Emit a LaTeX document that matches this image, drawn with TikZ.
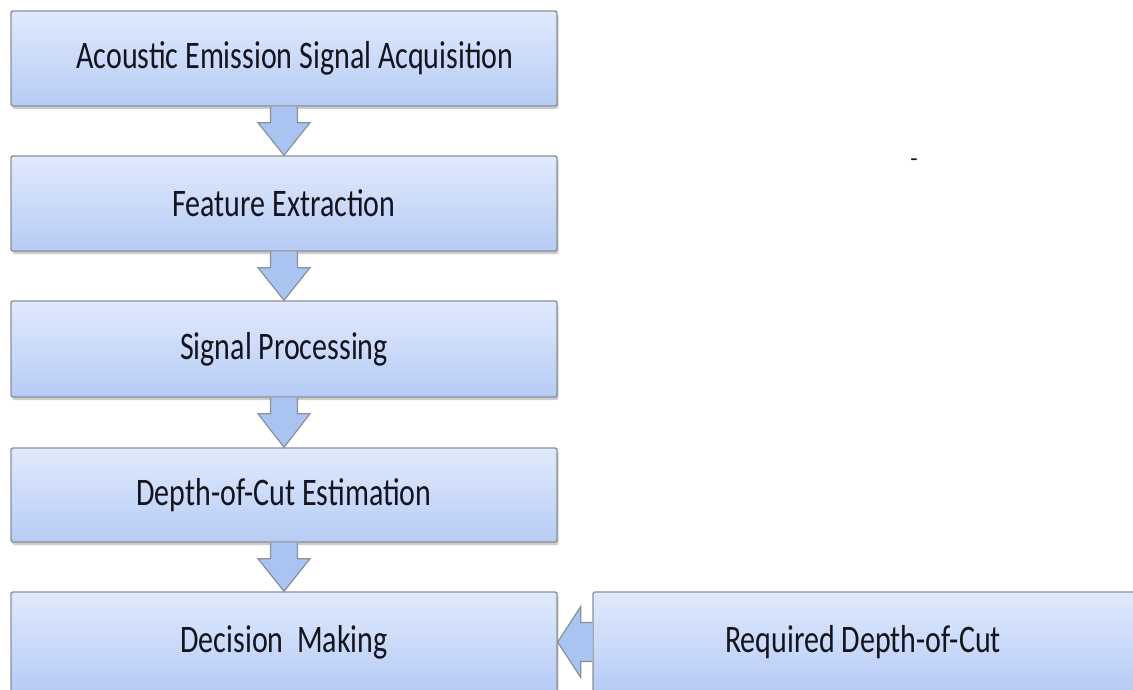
\documentclass[tikz,border=0pt]{standalone}
\usepackage{fontspec}
\setmainfont{Carlito}
\usetikzlibrary{calc,shadows}
\definecolor{boxtop}{HTML}{E0EAFC}
\definecolor{boxbot}{HTML}{B6CBF5}
\definecolor{edgegray}{HTML}{8A9099}
\definecolor{arrfill}{HTML}{AAC4F1}
\definecolor{txtcol}{HTML}{14141E}
\newcommand\tallertext[1]{\scalebox{1}[1.3]{#1}}
\newcommand\downblock[2]{%
  \filldraw[blockarrow] ($(#1.south)+(-13.5,0)$) -- ($(#1.south)+(-13.5,16)$) -- ($(#1.south)+(-26,16)$)
    -- (#2.north) -- ($(#1.south)+(26,16)$) -- ($(#1.south)+(13.5,16)$) -- ($(#1.south)+(13.5,0)$);}
\begin{document}
\begin{tikzpicture}[x=1pt,y=-1pt,
  flowbox/.style={draw=edgegray, line width=1.4pt, rounded corners=2pt,
    top color=boxtop, bottom color=boxbot,
    drop shadow={shadow xshift=1.5pt, shadow yshift=-3pt, opacity=0.4, fill=gray},
    inner sep=0pt, text=txtcol, font=\fontsize{30}{36}\selectfont},
  blockarrow/.style={draw=edgegray, line width=1.2pt, fill=arrfill, line join=miter}]
\useasboundingbox (0,0) rectangle (1133,690);
\clip (0,0) rectangle (1133,690);
\fill[white] (0,0) rectangle (1133,690);
\node[flowbox, minimum width=546, minimum height=95] (b1) at (284,58.5) {\hspace{22pt}\tallertext{Acoustic Emission Signal Acquisition}};
\node[flowbox, minimum width=546, minimum height=95] (b2) at (284,203.5) {\tallertext{Feature Extraction}};
\node[flowbox, minimum width=546, minimum height=96] (b3) at (284,349) {\tallertext{Signal Processing}};
\node[flowbox, minimum width=546, minimum height=94] (b4) at (284,495) {\tallertext{Depth-of-Cut Estimation}};
\node[flowbox, minimum width=546, minimum height=100] (b5) at (284,642) {\raisebox{-8pt}{\tallertext{Decision\hspace{0.45em}Making}}};
\node[flowbox, minimum width=548, minimum height=100] (r) at (867,642) {\hspace{-8pt}\raisebox{-8pt}{\tallertext{Required Depth-of-Cut}}};
\downblock{b1}{b2}
\downblock{b2}{b3}
\downblock{b3}{b4}
\downblock{b4}{b5}
\filldraw[blockarrow] ($(r.west)+(0,-19.5)$) -- ($(b5.east)+(23,-19.5)$) -- ($(b5.east)+(23,-35.5)$)
  -- (b5.east) -- ($(b5.east)+(23,35.5)$) -- ($(b5.east)+(23,19.5)$) -- ($(r.west)+(0,19.5)$);
\node[text=txtcol, font=\fontsize{24}{24}\selectfont, inner sep=0pt] (dash) at (914,163) {-};
\end{tikzpicture}
\end{document}
